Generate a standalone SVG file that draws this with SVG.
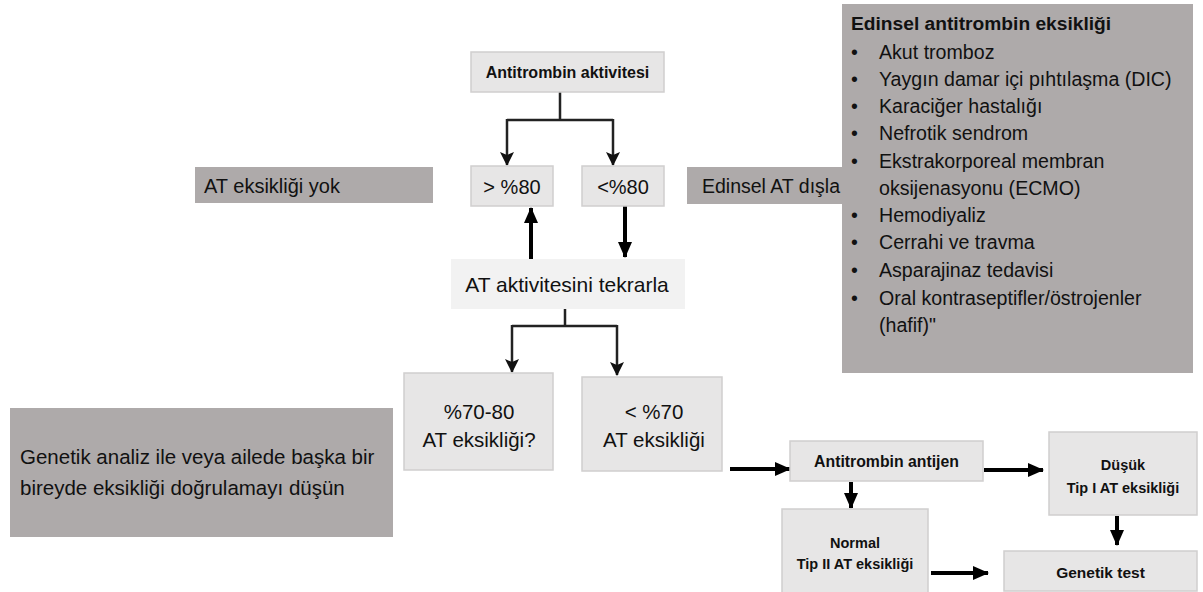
<svg xmlns="http://www.w3.org/2000/svg" width="1203" height="592" viewBox="0 0 1203 592">
<defs>
<style>
.light{fill:#e7e6e6;stroke:#d0cece;stroke-width:1.5}
.pale{fill:#f2f2f2;stroke:none}
.dark{fill:#aeaaaa;stroke:none}
text{font-family:"Liberation Sans",Arial,sans-serif;fill:#111}
.b{font-weight:bold;font-size:15.5px}
.bs{font-weight:bold;font-size:14.5px}
.m{font-size:20px}
.thin{stroke:#222;stroke-width:2.5;fill:none}
.thick{stroke:#000;stroke-width:4;fill:none}
</style>
<marker id="ah" markerUnits="userSpaceOnUse" markerWidth="14" markerHeight="14" viewBox="0 0 14 14" refX="13" refY="7" orient="auto">
<path d="M0,0 L14,7 L0,14 L3,7 Z" fill="#111"/>
</marker>
<marker id="ahb" markerUnits="userSpaceOnUse" markerWidth="16" markerHeight="16" viewBox="0 0 16 16" refX="15" refY="8" orient="auto">
<path d="M0,1 L16,8 L0,15 Z" fill="#000"/>
</marker>
</defs>

<g id="connectors">
<path class="thin" d="M560,92 V120 M507,120 H613"/>
<path class="thin" marker-end="url(#ah)" d="M507,119 V165"/>
<path class="thin" marker-end="url(#ah)" d="M613,119 V165"/>
<path class="thick" marker-end="url(#ahb)" d="M531,262 V208"/>
<path class="thick" marker-end="url(#ahb)" d="M625,206 V257"/>
<path class="thin" d="M565,309 V326 M512,326 H617"/>
<path class="thin" marker-end="url(#ah)" d="M512,325 V372"/>
<path class="thin" marker-end="url(#ah)" d="M617,325 V375"/>
<path class="thick" marker-end="url(#ahb)" d="M730,469 H790"/>
<path class="thick" marker-end="url(#ahb)" d="M984,470 H1043"/>
<path class="thick" marker-end="url(#ahb)" d="M851,482 V508"/>
<path class="thick" marker-end="url(#ahb)" d="M931,573 H988"/>
<path class="thick" marker-end="url(#ahb)" d="M1117,516 V545"/>
</g>

<g id="n-aktivite">
<rect class="light" x="471" y="52" width="193" height="40"/>
<text class="b" x="567.5" y="78" text-anchor="middle" style="font-size:16px">Antitrombin aktivitesi</text>
</g>

<g id="n-yok">
<rect class="dark" x="195" y="167" width="238" height="36"/>
<text class="m" x="204" y="193">AT eksikliği yok</text>
</g>

<g id="n-gt80">
<rect class="light" x="471" y="166" width="82" height="40"/>
<text class="m" x="512" y="194" text-anchor="middle">&gt; %80</text>
</g>

<g id="n-lt80">
<rect class="light" x="582" y="166" width="82" height="40"/>
<text class="m" x="623" y="194" text-anchor="middle">&lt;%80</text>
</g>

<g id="n-disla">
<rect class="dark" x="687" y="167" width="160" height="37"/>
<text class="m" x="702" y="193" style="font-size:19.5px">Edinsel AT dışla</text>
</g>

<g id="n-edinsel">
<rect class="dark" x="842" y="4" width="351" height="369"/>
<text x="851" y="30" style="font-weight:bold;font-size:19.2px">Edinsel antitrombin eksikliği</text>
<g style="font-size:19.6px">
<text x="851" y="59">•</text><text x="879" y="59">Akut tromboz</text>
<text x="851" y="86">•</text><text x="879" y="86">Yaygın damar içi pıhtılaşma (DIC)</text>
<text x="851" y="113">•</text><text x="879" y="113">Karaciğer hastalığı</text>
<text x="851" y="140">•</text><text x="879" y="140">Nefrotik sendrom</text>
<text x="851" y="168">•</text><text x="879" y="168">Ekstrakorporeal membran</text>
<text x="879" y="195">oksijenasyonu (ECMO)</text>
<text x="851" y="222">•</text><text x="879" y="222">Hemodiyaliz</text>
<text x="851" y="249">•</text><text x="879" y="249">Cerrahi ve travma</text>
<text x="851" y="277">•</text><text x="879" y="277">Asparajinaz tedavisi</text>
<text x="851" y="305">•</text><text x="879" y="305">Oral kontraseptifler/östrojenler</text>
<text x="879" y="332">(hafif)"</text>
</g>
</g>

<g id="n-tekrarla">
<rect class="pale" x="451" y="259" width="234" height="50"/>
<text class="m" x="567" y="292" text-anchor="middle" style="font-size:21px">AT aktivitesini tekrarla</text>
</g>

<g id="n-7080">
<rect class="light" x="404" y="373" width="149" height="97"/>
<text class="m" x="479" y="419" text-anchor="middle" style="font-size:20.5px">%70-80</text>
<text class="m" x="479" y="447" text-anchor="middle" style="font-size:20.5px">AT eksikliği?</text>
</g>

<g id="n-lt70">
<rect class="light" x="582" y="377" width="140" height="94"/>
<text class="m" x="654" y="419" text-anchor="middle" style="font-size:20.5px">&lt; %70</text>
<text class="m" x="654" y="447" text-anchor="middle" style="font-size:20.5px">AT eksikliği</text>
</g>

<g id="n-genetikanaliz">
<rect class="dark" x="10" y="408" width="383" height="129"/>
<text class="m" x="20" y="464" style="font-size:20.5px">Genetik analiz ile veya ailede başka bir</text>
<text class="m" x="20" y="495" style="font-size:20.5px">bireyde eksikliği doğrulamayı düşün</text>
</g>

<g id="n-antijen">
<rect class="light" x="790" y="441" width="193" height="40"/>
<text class="b" x="886.5" y="467" text-anchor="middle" style="font-size:15.8px">Antitrombin antijen</text>
</g>

<g id="n-dusuk">
<rect class="light" x="1049" y="432" width="148" height="83"/>
<text class="bs" x="1123" y="470" text-anchor="middle">Düşük</text>
<text class="bs" x="1123" y="493" text-anchor="middle">Tip I AT eksikliği</text>
</g>

<g id="n-normal">
<rect class="light" x="782" y="509" width="146" height="90"/>
<text class="bs" x="855" y="548" text-anchor="middle">Normal</text>
<text class="bs" x="855" y="569" text-anchor="middle">Tip II AT eksikliği</text>
</g>

<g id="n-genetiktest">
<rect class="light" x="1004" y="551" width="193" height="40"/>
<text class="b" x="1100.5" y="578" text-anchor="middle">Genetik test</text>
</g>
</svg>
